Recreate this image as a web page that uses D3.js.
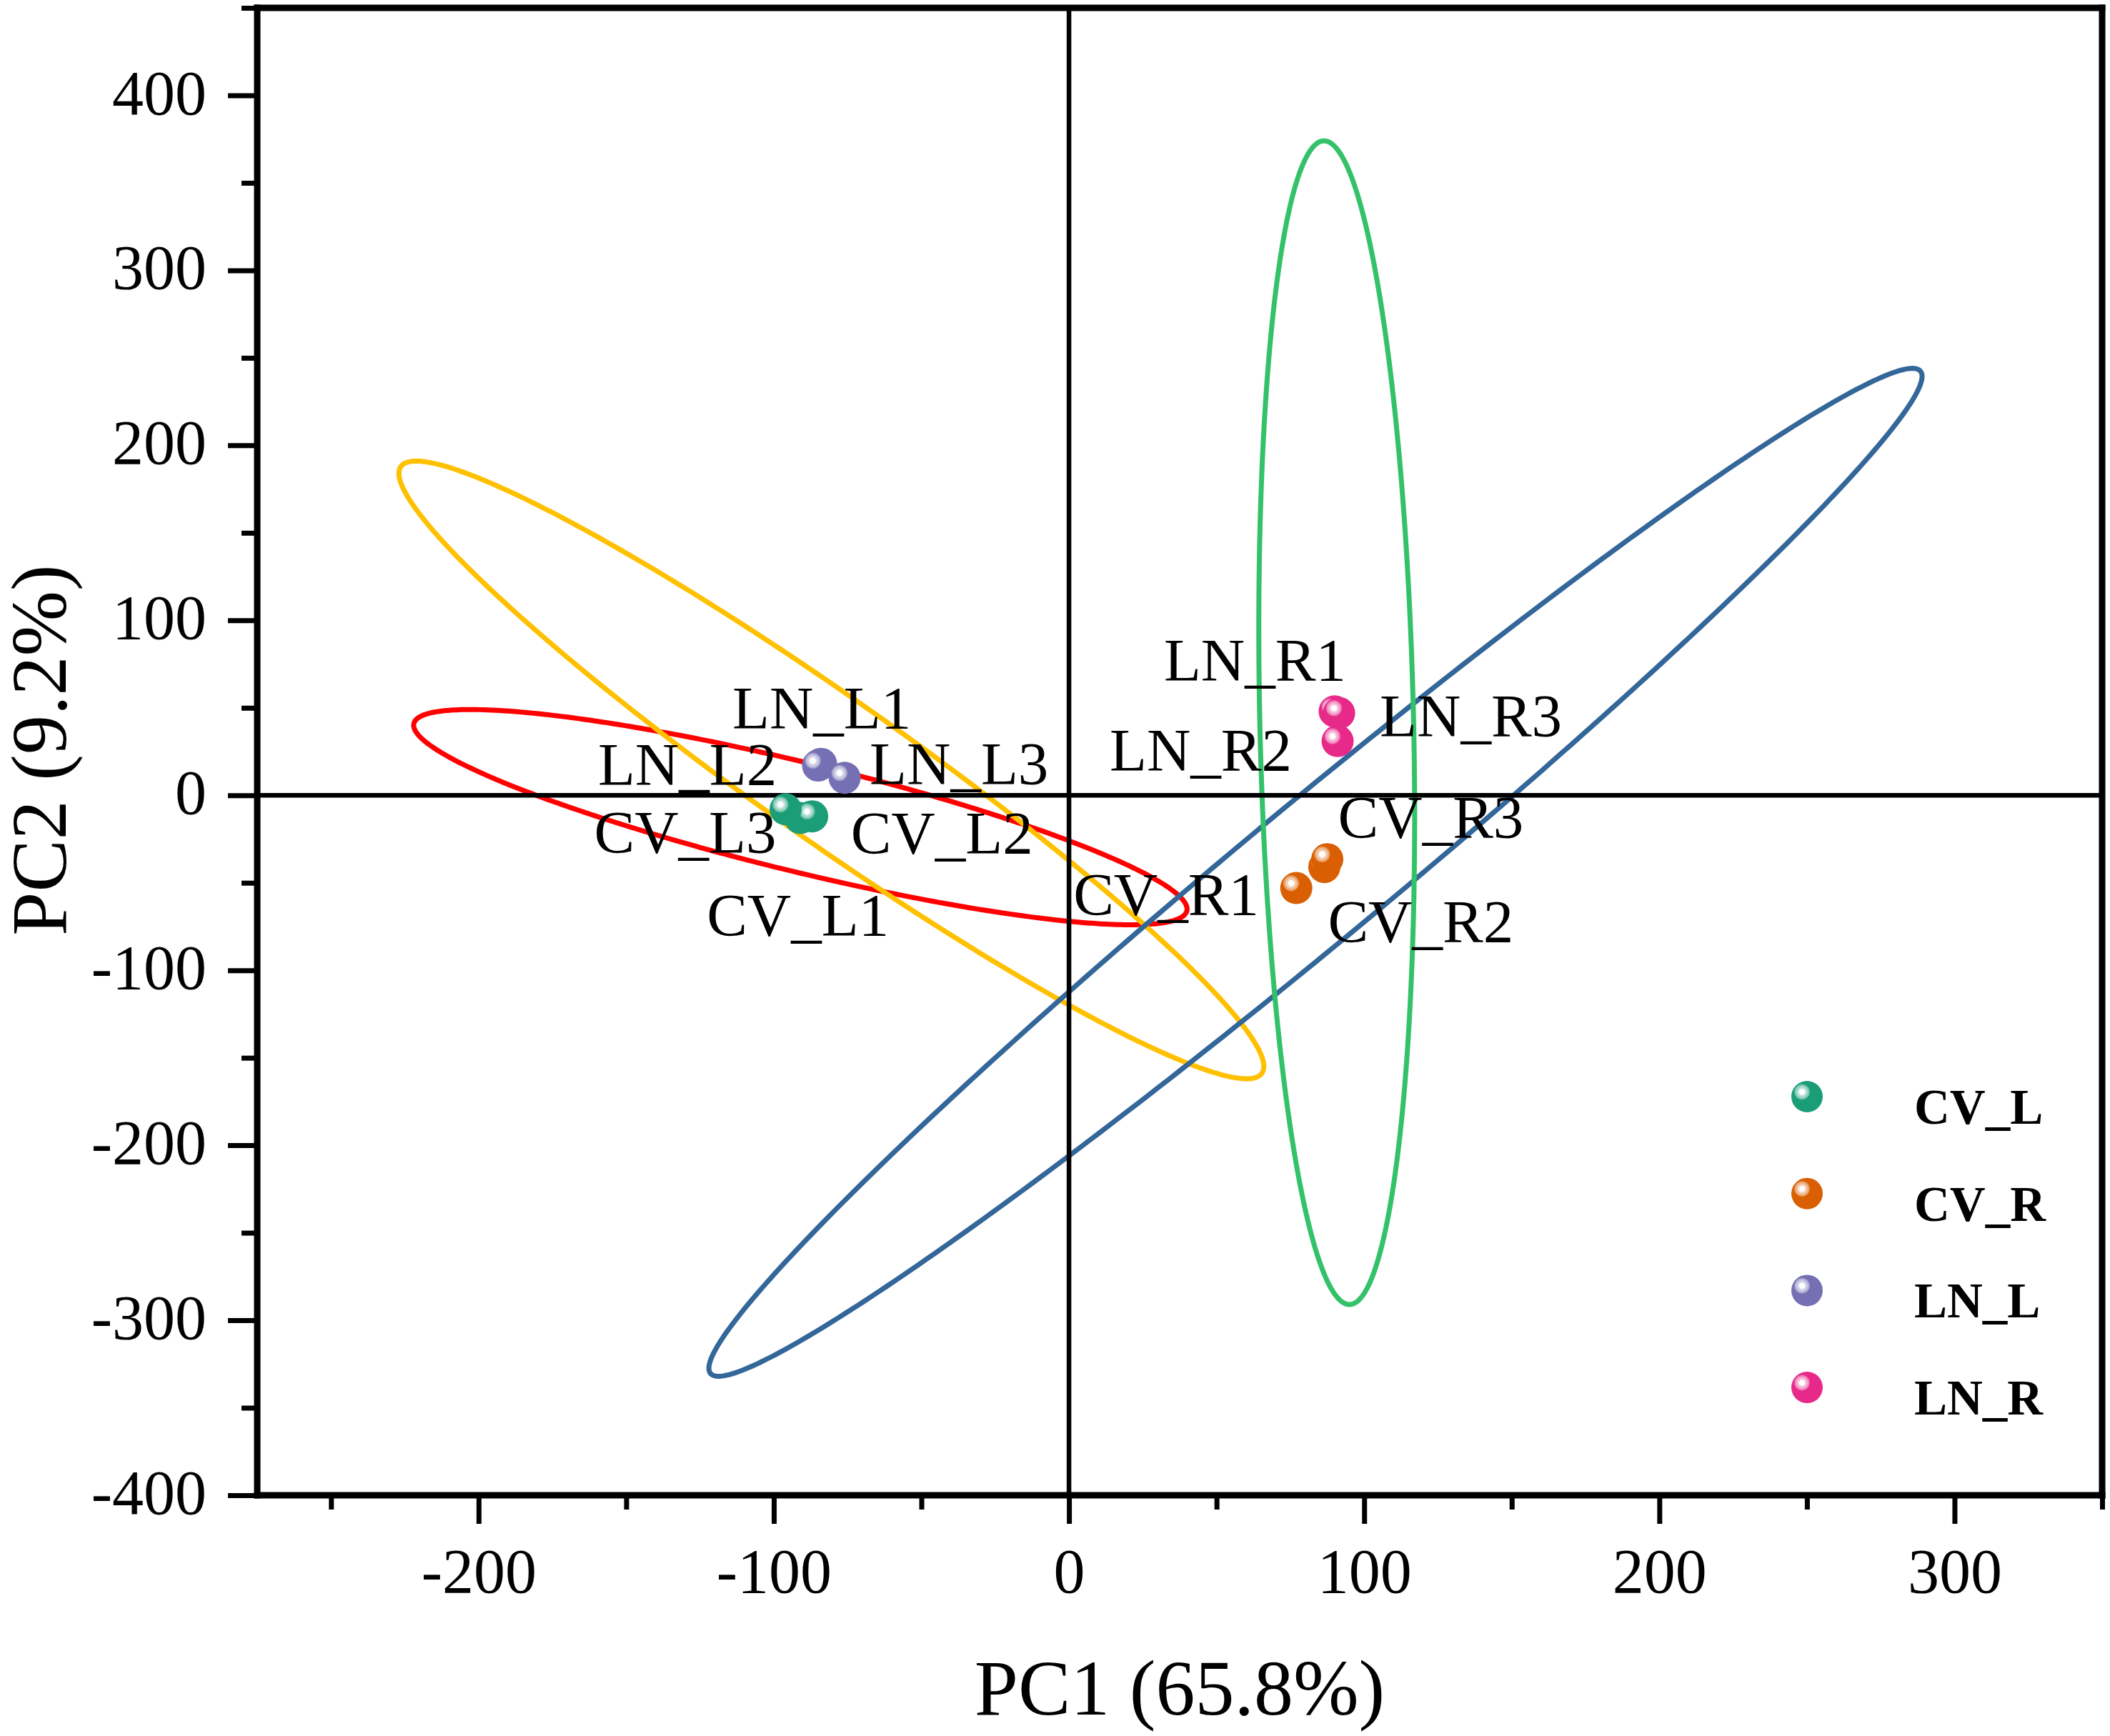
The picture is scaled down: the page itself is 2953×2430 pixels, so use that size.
<!DOCTYPE html>
<html>
<head>
<meta charset="utf-8">
<script src="https://cdn.jsdelivr.net/npm/d3@7"></script>
<style>
  html, body { margin: 0; padding: 0; background: #fff; }
  svg { display: block; }
  text { font-family: "Liberation Serif", "Times New Roman", serif; fill: #000; }
</style>
</head>
<body>
<script>
// ---------------- data ----------------
const groups = ["CV_L", "CV_R", "LN_L", "LN_R"];
const groupColors = ["#1b9e77", "#d95f02", "#7570b3", "#e7298a"];

const sampleNames = ["CV_L1", "CV_L2", "CV_L3", "CV_R1", "CV_R2", "CV_R3",
                     "LN_L1", "LN_L2", "LN_L3", "LN_R1", "LN_R2", "LN_R3"];
const sampleGroups = ["CV_L", "CV_L", "CV_L", "CV_R", "CV_R", "CV_R",
                      "LN_L", "LN_L", "LN_L", "LN_R", "LN_R", "LN_R"];
const pc1Values = [-91, -87, -96, 77, 86.5, 87.5, -84, -85, -76, 90, 91, 91.5];
const pc2Values = [-13, -12, -8, -53, -41, -36.5, 18, 17, 10, 48, 31, 47];
// label offsets from the point (pixels)
const labelDx = [-131, 54, -268, -312, 5, 15, -124, -308, 35, -239, -319, 57];
const labelDy = [165, 52, 61, 38, 105, -30, -49, 27, 9.5, -43, 42, 33];

// confidence ellipses: x = cx + rx*cos t ; y = cy + ry*cos(t - phi), cos(phi) given
const ellipseGroups = ["CV_L", "LN_L", "CV_R", "LN_R"];
const ellipseColors = ["#ff0000", "#ffc000", "#336699", "#33c26a"];
const ellipseCX = [-91, -80.5, 83.5, 90.7];
const ellipseCY = [-12.5, 14.5, -44, 41.5];
const ellipseRX = [131, 146.5, 205.5, 26.4];
const ellipseRY = [61.5, 176.5, 288, 332.5];
const ellipseCosPhi = [-0.854, -0.960, 0.984, -0.163];

const xMajorTicks = [-200, -100, 0, 100, 200, 300];
const xMinorTicks = [-250, -150, -50, 50, 150, 250, 350];
const yMajorTicks = [-400, -300, -200, -100, 0, 100, 200, 300, 400];
const yMinorTicks = [-350, -250, -150, -50, 50, 150, 250, 350, 450];

const xTitle = "PC1 (65.8%)";
const yTitle = "PC2 (9.2%)";

// ---------------- layout ----------------
const W = 2953, H = 2430;
const L = 360, R = 2942, T = 11, B = 2093;

const svg = d3.select("body").append("svg").attr("width", W).attr("height", H);
svg.append("rect").attr("width", W).attr("height", H).attr("fill", "#fff");

const x = d3.scaleLinear().domain([-275, 350]).range([L, R]);
const y = d3.scaleLinear().domain([-400, 450]).range([B, T]);

// gradients for glossy spheres
const defs = svg.append("defs");
groups.forEach((g, i) => {
  const mix = (t) => d3.interpolateRgb(groupColors[i], "#ffffff")(t);
  const grad = defs.append("radialGradient").attr("id", "grad-" + g)
    .attr("cx", 0.34).attr("cy", 0.35).attr("r", 0.5).attr("fx", 0.34).attr("fy", 0.35);
  grad.append("stop").attr("offset", "0").attr("stop-color", "#ffffff");
  grad.append("stop").attr("offset", "0.16").attr("stop-color", "#ffffff");
  grad.append("stop").attr("offset", "0.22").attr("stop-color", mix(0.75));
  grad.append("stop").attr("offset", "0.34").attr("stop-color", mix(0.6));
  grad.append("stop").attr("offset", "0.46").attr("stop-color", mix(0.35));
  grad.append("stop").attr("offset", "0.52").attr("stop-color", groupColors[i]);
  grad.append("stop").attr("offset", "1").attr("stop-color", groupColors[i]);
});

// ---------------- ellipses ----------------
const tSteps = d3.range(0, 361).map(d => d * Math.PI / 180);
const lineGen = d3.line().x(d => x(d[0])).y(d => y(d[1])).curve(d3.curveLinearClosed);
ellipseGroups.forEach((g, i) => {
  const phi = Math.acos(ellipseCosPhi[i]);
  const pts = tSteps.map(t => [ellipseCX[i] + ellipseRX[i] * Math.cos(t),
                               ellipseCY[i] + ellipseRY[i] * Math.cos(t - phi)]);
  svg.append("path").attr("d", lineGen(pts))
    .attr("fill", "none").attr("stroke", ellipseColors[i]).attr("stroke-width", 7);
});

// ---------------- zero lines ----------------
svg.append("line").attr("x1", x(0)).attr("x2", x(0)).attr("y1", T).attr("y2", B)
  .attr("stroke", "#000").attr("stroke-width", 6.5);
svg.append("line").attr("x1", L).attr("x2", R).attr("y1", y(0)).attr("y2", y(0))
  .attr("stroke", "#000").attr("stroke-width", 6.5);

// ---------------- axes ----------------
const fmt = d => String(d);
const gxMinor = svg.append("g").attr("transform", `translate(0,${B})`)
  .call(d3.axisBottom(x).tickValues(xMinorTicks).tickSize(20).tickSizeOuter(0).tickFormat(""));
const gxMajor = svg.append("g").attr("transform", `translate(0,${B})`)
  .call(d3.axisBottom(x).tickValues(xMajorTicks).tickSize(40).tickSizeOuter(0).tickPadding(34).tickFormat(fmt));
const gyMinor = svg.append("g").attr("transform", `translate(${L},0)`)
  .call(d3.axisLeft(y).tickValues(yMinorTicks).tickSize(22).tickSizeOuter(0).tickFormat(""));
const gyMajor = svg.append("g").attr("transform", `translate(${L},0)`)
  .call(d3.axisLeft(y).tickValues(yMajorTicks).tickSize(41).tickSizeOuter(0).tickPadding(30).tickFormat(fmt));
[gxMinor, gxMajor, gyMinor, gyMajor].forEach(g => {
  g.select(".domain").remove();
  g.selectAll(".tick line").attr("stroke", "#000").attr("stroke-width", 7);
  g.selectAll(".tick text").attr("font-size", 88)
    .attr("font-family", "'Liberation Serif', 'Times New Roman', serif").attr("fill", "#000");
});
gyMajor.selectAll(".tick text").attr("dy", "0.29em");

// frame
const frame = svg.append("g").attr("stroke", "#000").attr("stroke-width", 9).attr("stroke-linecap", "square");
frame.append("line").attr("x1", L).attr("x2", L).attr("y1", T).attr("y2", B);
frame.append("line").attr("x1", L).attr("x2", R).attr("y1", B).attr("y2", B);
frame.append("line").attr("x1", L).attr("x2", R).attr("y1", T).attr("y2", T);
frame.append("line").attr("x1", R).attr("x2", R).attr("y1", T).attr("y2", B);

// ---------------- points ----------------
const samples = sampleNames.map((n, i) => ({
  name: n, group: sampleGroups[i], pc1: pc1Values[i], pc2: pc2Values[i],
  dx: labelDx[i], dy: labelDy[i]
}));
svg.append("g").selectAll("circle").data(samples).join("circle")
  .attr("cx", d => x(d.pc1)).attr("cy", d => y(d.pc2)).attr("r", 22.5)
  .attr("fill", d => `url(#grad-${d.group})`);

svg.append("g").selectAll("text").data(samples).join("text")
  .attr("x", d => x(d.pc1) + d.dx).attr("y", d => y(d.pc2) + d.dy)
  .attr("font-size", 85).text(d => d.name);

// ---------------- legend ----------------
const legendX = 2529, legendTextX = 2679, legendY0 = 1535, legendStep = 135.7;
const lg = svg.append("g");
groups.forEach((g, i) => {
  lg.append("circle").attr("cx", legendX).attr("cy", legendY0 + i * legendStep).attr("r", 22)
    .attr("fill", `url(#grad-${g})`);
  lg.append("text").attr("x", legendTextX).attr("y", legendY0 + i * legendStep + 38)
    .attr("font-size", 69).attr("font-weight", "bold").text(g);
});

// ---------------- titles ----------------
svg.append("text").attr("x", (L + R) / 2).attr("y", 2400).attr("text-anchor", "middle")
  .attr("font-size", 110).text(xTitle);
svg.append("text").attr("transform", "translate(92,1050) rotate(-90)").attr("text-anchor", "middle")
  .attr("font-size", 110).text(yTitle);
</script>
</body>
</html>
